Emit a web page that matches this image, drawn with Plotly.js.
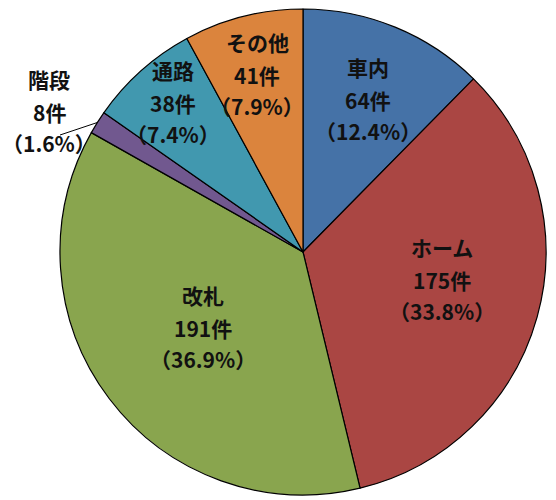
<!DOCTYPE html>
<html>
<head>
<meta charset="utf-8">
<script src="https://cdn.plot.ly/plotly-3.0.1.min.js"></script>
<style>
  body { margin: 0; background: #fff; }
  #chart { width: 556px; height: 500px; }
</style>
</head>
<body>
<div id="chart"></div>
<script>
const categories = ['車内', 'ホーム', '改札', '階段', '通路', 'その他'];
const counts = [64, 175, 191, 8, 38, 41];
const percentLabels = ['12.4%', '33.8%', '36.9%', '1.6%', '7.4%', '7.9%'];
const sliceColors = ['#4572A7', '#AA4643', '#89A54E', '#71588F', '#4198AF', '#DB843D'];

// label block centres (middle line), in pixels of the 556x500 page
const labelPos = [[368, 100], [442, 280], [203, 328], [49, 112], [173, 103], [257, 75]];
// the small slice gets an outside label with a leader line
const leaderSlice = 3;
const leaderEnd = [60, 135];

// pie geometry in pixels
const W = 556, H = 500;
const margin = { l: 60, r: 10, t: 9, b: 5 };
const R = (W - margin.l - margin.r) / 2;
const cx = margin.l + R;
const cy = margin.t + R;

function toPaperX(px) { return (px - margin.l) / (W - margin.l - margin.r); }
function toPaperY(py) { return (H - margin.b - py) / (H - margin.t - margin.b); }

const total = counts.reduce((a, b) => a + b, 0);

let annotations = [];
let shapes = [];
let start = 0;
const labelFont = { family: 'Noto Sans CJK JP, sans-serif', size: 21, color: '#111', weight: 'bold' };

for (let i = 0; i < counts.length; i++) {
  const mid = (start + counts[i] / 2) / total * 2 * Math.PI;
  start += counts[i];
  if (i === leaderSlice) {
    const ex = cx + R * Math.sin(mid);
    const ey = cy - R * Math.cos(mid);
    shapes.push({
      type: 'line', xref: 'paper', yref: 'paper',
      x0: toPaperX(ex), y0: toPaperY(ey),
      x1: toPaperX(leaderEnd[0]), y1: toPaperY(leaderEnd[1]),
      line: { color: '#000', width: 1 }
    });
  }
  const lines = [categories[i], counts[i] + '件', '（' + percentLabels[i] + '）'];
  const shifts = [33, 0, -31];
  for (let k = 0; k < 3; k++) {
    annotations.push({
      xref: 'paper', yref: 'paper',
      x: toPaperX(labelPos[i][0]), y: toPaperY(labelPos[i][1]),
      xanchor: 'center', yanchor: 'middle',
      yshift: shifts[k],
      text: lines[k],
      showarrow: false,
      font: labelFont
    });
  }
}

const trace = {
  type: 'pie',
  labels: categories,
  values: counts,
  sort: false,
  direction: 'clockwise',
  rotation: 0,
  textinfo: 'none',
  hoverinfo: 'label+value+percent',
  marker: { colors: sliceColors, line: { color: '#000', width: 1.2 } },
  showlegend: false
};

const layout = {
  width: W,
  height: H,
  margin: margin,
  paper_bgcolor: '#fff',
  showlegend: false,
  annotations: annotations,
  shapes: shapes
};

Plotly.newPlot('chart', [trace], layout, { displayModeBar: false, staticPlot: true });
</script>
</body>
</html>
